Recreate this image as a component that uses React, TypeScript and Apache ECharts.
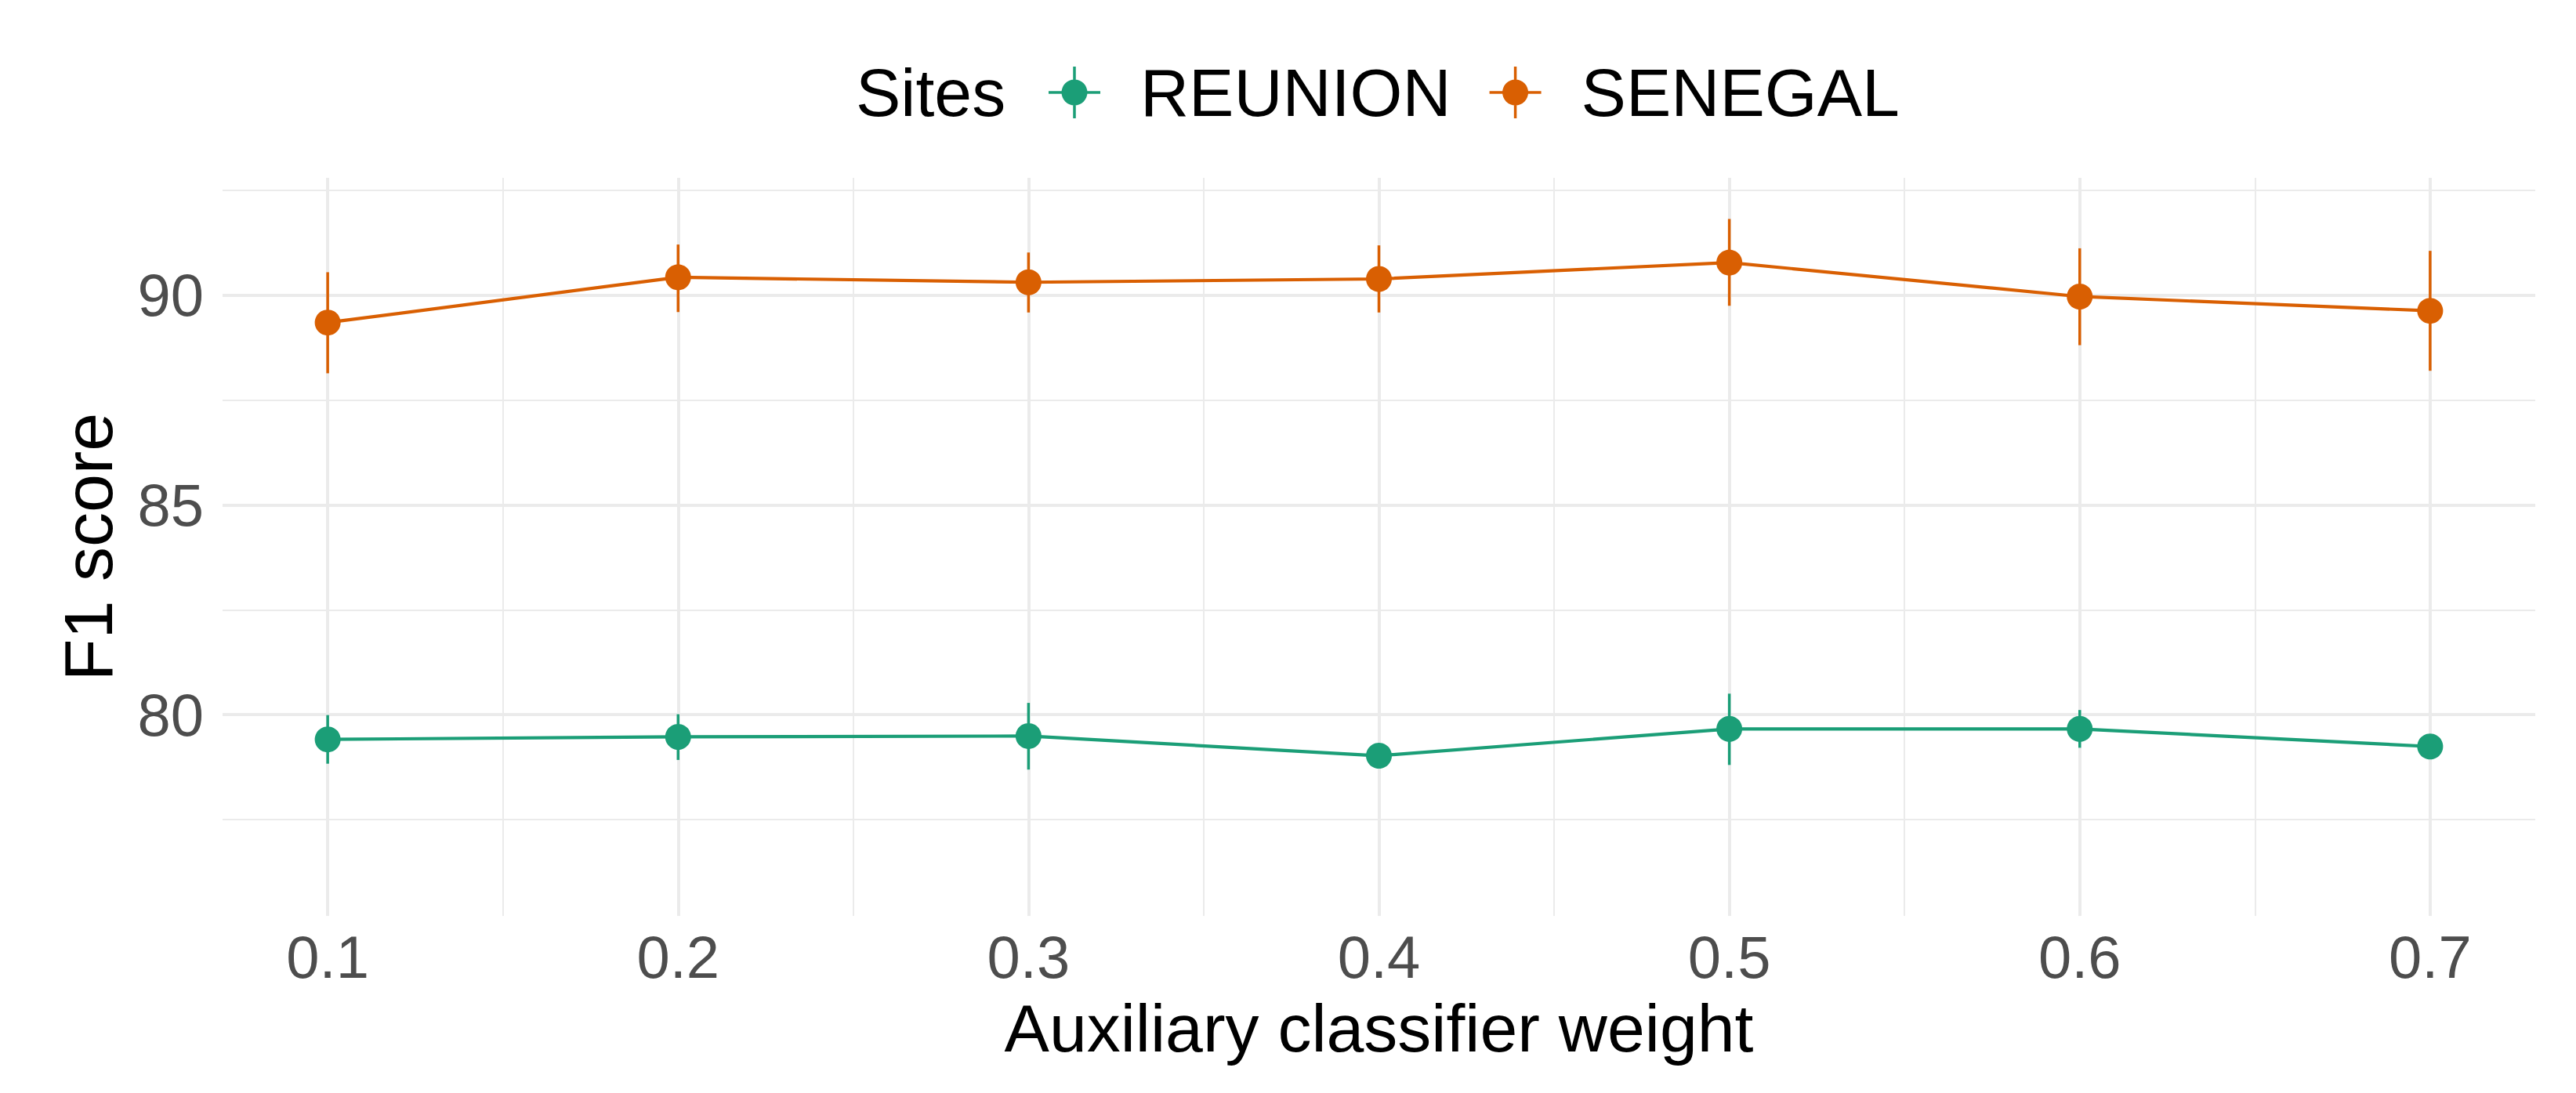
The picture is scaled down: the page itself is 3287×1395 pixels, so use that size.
import React, { useEffect, useRef } from "react";
import * as echarts from "echarts";

const weights = [0.1, 0.2, 0.3, 0.4, 0.5, 0.6, 0.7];
const reunionMean = [79.41, 79.47, 79.49, 79.02, 79.66, 79.66, 79.24];
const reunionLow = [78.83, 78.92, 78.69, 78.88, 78.8, 79.21, 79.1];
const reunionHigh = [79.99, 80.01, 80.28, 79.16, 80.5, 80.11, 79.38];
const senegalMean = [89.35, 90.43, 90.31, 90.39, 90.78, 89.97, 89.63];
const senegalLow = [88.14, 89.6, 89.59, 89.59, 89.75, 88.81, 88.2];
const senegalHigh = [90.55, 91.21, 91.02, 91.19, 91.82, 91.12, 91.06];

const xMajor = [0.1, 0.2, 0.3, 0.4, 0.5, 0.6, 0.7];
const xMinor = [0.15, 0.25, 0.35, 0.45, 0.55, 0.65];
const yMajor = [80, 85, 90];
const yMinor = [77.5, 82.5, 87.5, 92.5];

const GREEN = "#1B9E77";
const ORANGE = "#D95F02";
const FONT = "'Liberation Sans', Arial, Helvetica, sans-serif";
const GRID = "#EBEBEB";

const legendIcon =
  "path://M0,31.25 H66 V34.75 H0 Z M31.25,0 H34.75 V66 H31.25 Z M49.5,33 A16.5,16.5 0 1 1 16.5,33 A16.5,16.5 0 1 1 49.5,33 Z";

function errSeries(name: string, lo: number[], hi: number[], color: string) {
  return {
    type: "custom",
    name,
    xAxisIndex: 0,
    yAxisIndex: 0,
    z: 2,
    silent: true,
    data: weights.map((w, i) => [w, lo[i], hi[i]]),
    renderItem: (params: any, api: any) => {
      const p1 = api.coord([api.value(0), api.value(1)]);
      const p2 = api.coord([api.value(0), api.value(2)]);
      return {
        type: "line",
        shape: { x1: p1[0], y1: p1[1], x2: p2[0], y2: p2[1] },
        style: { stroke: color, lineWidth: 3.5 },
      };
    },
  };
}

function lineSeries(name: string, mean: number[], color: string) {
  return {
    type: "line",
    name,
    xAxisIndex: 0,
    yAxisIndex: 0,
    z: 3,
    data: weights.map((w, i) => [w, mean[i]]),
    symbol: "circle",
    symbolSize: 33,
    showSymbol: true,
    lineStyle: { color, width: 4.2 },
    itemStyle: { color, borderWidth: 0 },
    emphasis: { disabled: true },
  };
}

export default function App() {
  const ref = useRef<HTMLDivElement>(null);
  useEffect(() => {
    if (!ref.current) return;
    const chart = echarts.init(ref.current, null, { renderer: "svg" });
    const hidden = { show: false };
    const option: any = {
      animation: false,
      backgroundColor: "#FFFFFF",
      textStyle: { fontFamily: FONT },
      grid: { left: 284, right: 52, top: 227, bottom: 226, containLabel: false },
      legend: {
        show: true,
        data: ["REUNION", "SENEGAL"],
        left: 1338,
        top: 75,
        padding: 0,
        itemWidth: 66,
        itemHeight: 66,
        itemGap: 49,
        icon: legendIcon,
        selectedMode: false,
        itemStyle: { borderWidth: 0 },
        textStyle: {
          fontFamily: FONT,
          fontSize: 86,
          color: "#000000",
          lineHeight: 66,
          padding: [0, 0, 0, 46],
        },
      },
      graphic: [
        {
          type: "text",
          left: 1092,
          top: 75,
          style: {
            text: "Sites",
            font: `86px ${FONT}`,
            fill: "#000000",
            lineHeight: 66,
          },
        },
      ],
      xAxis: [
        {
          type: "value",
          min: 0.07,
          max: 0.73,
          axisLine: hidden,
          axisTick: { show: false, customValues: xMajor },
          axisLabel: {
            customValues: xMajor,
            formatter: (v: number) => v.toFixed(1),
            fontSize: 76,
            lineHeight: 76,
            color: "#4D4D4D",
            fontFamily: FONT,
            margin: 14,
          },
          splitLine: { show: true, lineStyle: { color: GRID, width: 4 } },
          name: "Auxiliary classifier weight",
          nameLocation: "middle",
          nameGap: 100,
          nameTextStyle: { fontSize: 86, lineHeight: 86, color: "#000000", fontFamily: FONT },
        },
        {
          type: "value",
          min: 0.07,
          max: 0.73,
          position: "bottom",
          axisLine: hidden,
          axisTick: { show: false, customValues: xMinor },
          axisLabel: hidden,
          splitLine: { show: true, lineStyle: { color: GRID, width: 2 } },
        },
      ],
      yAxis: [
        {
          type: "value",
          min: 75.2,
          max: 92.8,
          axisLine: hidden,
          axisTick: { show: false, customValues: yMajor },
          axisLabel: {
            customValues: yMajor,
            fontSize: 76,
            color: "#4D4D4D",
            fontFamily: FONT,
            margin: 24,
          },
          splitLine: { show: true, lineStyle: { color: GRID, width: 4 } },
          name: "F1 score",
          nameLocation: "middle",
          nameRotate: 90,
          nameGap: 128,
          nameTextStyle: { fontSize: 88, lineHeight: 88, color: "#000000", fontFamily: FONT },
        },
        {
          type: "value",
          min: 75.2,
          max: 92.8,
          position: "left",
          axisLine: hidden,
          axisTick: { show: false, customValues: yMinor },
          axisLabel: hidden,
          splitLine: { show: true, lineStyle: { color: GRID, width: 2 } },
        },
      ],
      series: [
        errSeries("REUNION error", reunionLow, reunionHigh, GREEN),
        errSeries("SENEGAL error", senegalLow, senegalHigh, ORANGE),
        lineSeries("REUNION", reunionMean, GREEN),
        lineSeries("SENEGAL", senegalMean, ORANGE),
      ],
    };
    chart.setOption(option);
    return () => chart.dispose();
  }, []);
  return (
    <div
      ref={ref}
      style={{ position: "absolute", left: 0, top: 0, width: 3287, height: 1395, background: "#fff" }}
    />
  );
}
